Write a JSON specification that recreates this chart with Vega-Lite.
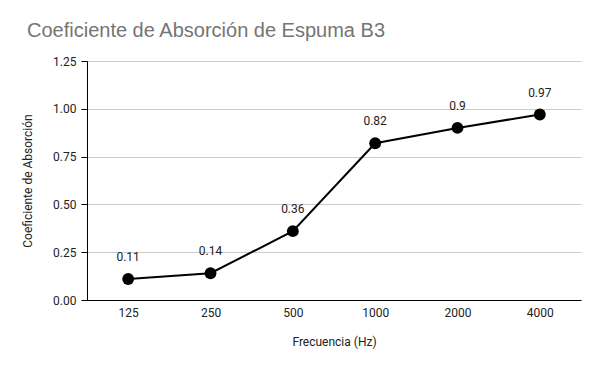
{
  "$schema": "https://vega.github.io/schema/vega-lite/v6.json",
  "autosize": "none",
  "width": 494,
  "height": 239,
  "padding": {"left": 87, "top": 61, "right": 19, "bottom": 71},
  "background": "white",
  "title": {
    "text": "Coeficiente de Absorción de Espuma B3",
    "anchor": "start",
    "frame": "group",
    "dx": -60,
    "offset": 14,
    "font": "Liberation Sans",
    "fontSize": 20,
    "fontWeight": "normal",
    "color": "#757575"
  },
  "data": {
    "values": [
      {"freq": "125", "coef": 0.11},
      {"freq": "250", "coef": 0.14},
      {"freq": "500", "coef": 0.36},
      {"freq": "1000", "coef": 0.82},
      {"freq": "2000", "coef": 0.9},
      {"freq": "4000", "coef": 0.97}
    ]
  },
  "config": {
    "view": {"stroke": null},
    "font": "Roboto"
  },
  "encoding": {
    "x": {
      "field": "freq",
      "type": "ordinal",
      "sort": null,
      "scale": {"type": "point", "padding": 0.5},
      "axis": {
        "title": "Frecuencia (Hz)",
        "labelAngle": 0,
        "ticks": false,
        "grid": false,
        "domainColor": "#000000",
        "labelFont": "Roboto",
        "labelFontSize": 12,
        "labelColor": "#222222",
        "labelPadding": 7,
        "titleFont": "Roboto",
        "titleFontSize": 12,
        "titleFontWeight": "normal",
        "titleColor": "#222222",
        "titlePadding": 18
      }
    },
    "y": {
      "field": "coef",
      "type": "quantitative",
      "scale": {"domain": [0, 1.25], "nice": false},
      "axis": {
        "title": "Coeficiente de Absorción",
        "values": [0, 0.25, 0.5, 0.75, 1, 1.25],
        "format": ".2f",
        "tickSize": 6,
        "tickColor": "#000000",
        "domainColor": "#000000",
        "gridColor": "#cccccc",
        "labelFont": "Roboto",
        "labelFontSize": 12,
        "labelColor": "#222222",
        "labelPadding": 5,
        "titleFont": "Roboto",
        "titleFontSize": 12,
        "titleFontWeight": "normal",
        "titleColor": "#222222",
        "titlePadding": 18
      }
    }
  },
  "layer": [
    {"mark": {"type": "line", "color": "#000000", "strokeWidth": 2}},
    {"mark": {"type": "point", "filled": true, "color": "#000000", "opacity": 1, "size": 140}},
    {
      "mark": {"type": "text", "dy": -22, "fontSize": 12, "color": "#222222", "font": "Roboto"},
      "encoding": {"text": {"field": "coef", "type": "quantitative"}}
    }
  ]
}
